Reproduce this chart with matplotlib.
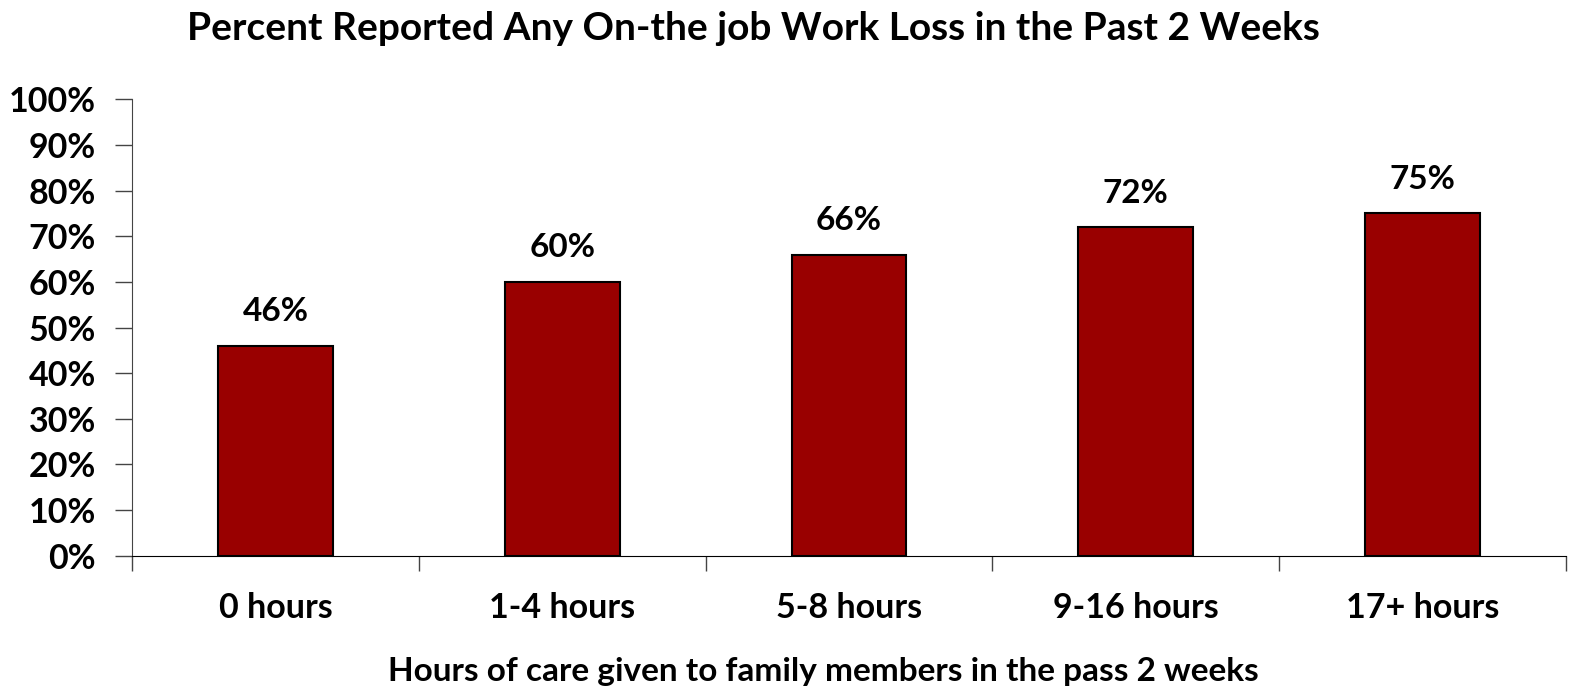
import matplotlib
matplotlib.use("Agg")
import matplotlib.pyplot as plt
import numpy as np

# data
categories = ["0 hours", "1-4 hours", "5-8 hours", "9-16 hours", "17+ hours"]
pct = [46, 60, 66, 72, 75]
yticks = [0, 10, 20, 30, 40, 50, 60, 70, 80, 90, 100]

plt.rcParams['font.family'] = ['Lato', 'DejaVu Sans']
plt.rcParams['font.weight'] = 'bold'

fig = plt.figure(figsize=(15.72, 6.9), dpi=100)
ax = fig.add_axes([0.084, 0.1946, 0.9122, 0.6614])

x = np.arange(len(categories))
ax.bar(x, pct, width=0.4, color='#990000', edgecolor='black', linewidth=1.5, zorder=3)

for xi, v in zip(x, pct):
    ax.annotate(f"{v}%", (xi, v), xytext=(0, 14), textcoords='offset points',
                ha='center', va='bottom', fontsize=24, fontweight='bold')

ax.set_xlim(-0.5, len(categories) - 0.5)
ax.set_ylim(0, 100)
ax.set_yticks(yticks)
ax.set_yticklabels([f"{t}%" for t in yticks], fontsize=24.5, fontweight='bold')

# category labels between boundary ticks
ax.set_xticks(np.arange(-0.5, len(categories)), minor=False)
ax.set_xticklabels([])
ax.set_xticks(x, minor=True)
ax.set_xticklabels(categories, minor=True, fontsize=24.5, fontweight='bold')
ax.tick_params(axis='x', which='minor', length=0, pad=26)
ax.tick_params(axis='x', which='major', length=11, width=1, color='#444444', direction='out')
ax.tick_params(axis='y', length=12, width=1, color='#444444', direction='out', pad=14)

for s in ['top', 'right']:
    ax.spines[s].set_visible(False)
ax.spines['left'].set_color('#444444')
ax.spines['bottom'].set_color('black')

fig.text(753 / 1572, 1 - 28 / 690, "Percent Reported Any On-the job Work Loss in the Past 2 Weeks",
         ha='center', va='center', fontsize=28, fontweight='bold')
fig.text(823 / 1572, 1 - 671 / 690, "Hours of care given to family members in the pass 2 weeks",
         ha='center', va='center', fontsize=24, fontweight='bold')

fig.savefig("out.png", dpi=100)
